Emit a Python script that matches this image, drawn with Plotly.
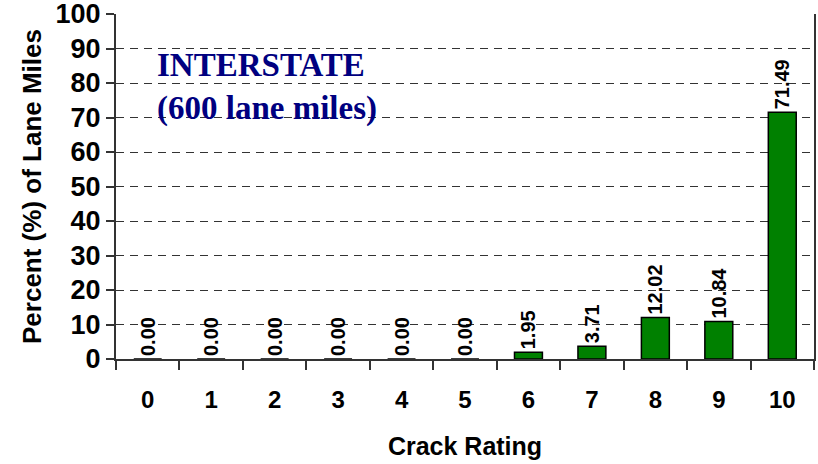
import plotly.graph_objects as go

categories = ["0", "1", "2", "3", "4", "5", "6", "7", "8", "9", "10"]
percent = [0.00, 0.00, 0.00, 0.00, 0.00, 0.00, 1.95, 3.71, 12.02, 10.84, 71.49]
labels = [f"{v:.2f}" for v in percent]
y_ticks = list(range(0, 101, 10))

label_font = dict(family="Liberation Sans, Arial", size=20, color="black", weight="bold")

fig = go.Figure(go.Bar(
    x=categories, y=percent, text=labels,
    textposition="outside", textangle=-90, constraintext="none",
    textfont=label_font, outsidetextfont=label_font,
    marker=dict(color="#008000", line=dict(color="black", width=1.5)),
    cliponaxis=False, width=0.44,
))

fig.update_layout(
    width=818, height=464,
    margin=dict(l=116, r=4, t=14, b=105, autoexpand=False),
    paper_bgcolor="white", plot_bgcolor="white",
    showlegend=False,
    font=dict(family="Liberation Sans, Arial", color="black"),
)
fig.update_xaxes(
    type="category", tickson="boundaries", ticks="outside", ticklen=9, tickwidth=1.5,
    tickcolor="#333", showline=True, linecolor="#333", linewidth=2,
    showgrid=False, automargin=False,
    tickfont=dict(size=24, weight="bold"), ticklabelstandoff=18,
    title=dict(text="Crack Rating", font=dict(size=25, weight="bold"), standoff=26),
)
fig.update_yaxes(
    range=[0, 100], tickvals=y_ticks, ticks="outside", ticklen=8, tickwidth=1.5,
    tickcolor="#333", showline=True, linecolor="#333", linewidth=2, mirror=True,
    showgrid=True, gridcolor="#333", griddash="8px,6px", gridwidth=1.2,
    zeroline=False, automargin=False, ticklabeloverflow="allow",
    tickfont=dict(size=27, weight="bold"), ticklabelstandoff=0,
    title=dict(text="Percent (%) of Lane Miles", font=dict(size=26, weight="bold"), standoff=6),
)
fig.add_annotation(
    xref="paper", yref="paper", x=0.056, y=0.788, xanchor="left", yanchor="middle",
    text="INTERSTATE<br>(600 lane miles)", showarrow=False, align="left",
    font=dict(family="Liberation Serif, Times New Roman", size=33, color="#000080", weight="bold"),
)

fig.write_html(
    "out.html",
    config={"displayModeBar": False},
    post_script="document.body.style.margin='0';document.body.style.overflow='hidden';",
)
